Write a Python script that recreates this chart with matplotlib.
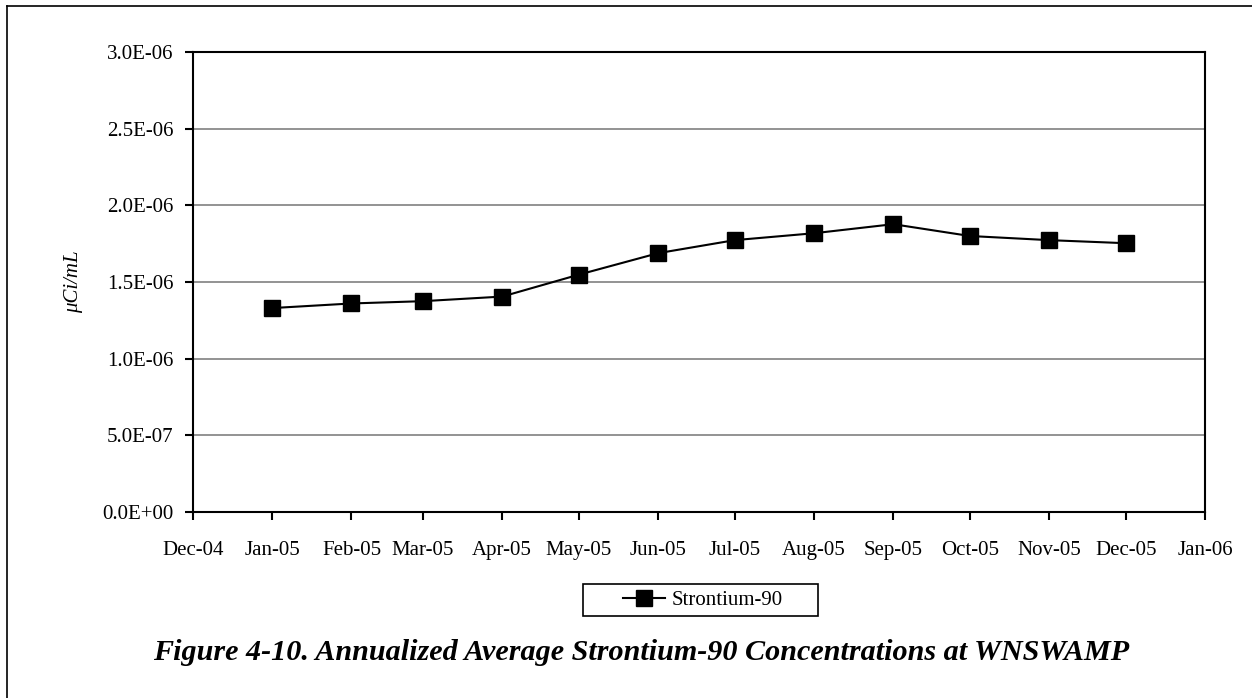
import numpy as np
import matplotlib
matplotlib.use("Agg")
import matplotlib.pyplot as plt
import matplotlib.dates as mdates
from matplotlib.lines import Line2D
from matplotlib.patches import Rectangle
import datetime as dt

# data
months = ["2005-01-01", "2005-02-01", "2005-03-01", "2005-04-01", "2005-05-01", "2005-06-01",
          "2005-07-01", "2005-08-01", "2005-09-01", "2005-10-01", "2005-11-01", "2005-12-01"]
sr90 = [1.33e-6, 1.36e-6, 1.375e-6, 1.405e-6, 1.548e-6, 1.688e-6,
        1.773e-6, 1.818e-6, 1.877e-6, 1.80e-6, 1.773e-6, 1.753e-6]
yticks = [0.0, 0.5e-6, 1.0e-6, 1.5e-6, 2.0e-6, 2.5e-6, 3.0e-6]
caption = "Figure 4-10. Annualized Average Strontium-90 Concentrations at WNSWAMP"

plt.rcParams["font.family"] = ["Liberation Serif", "DejaVu Serif"]

fig = plt.figure(figsize=(12.52, 6.98), dpi=100)
ax = fig.add_axes([193/1252, 1-512/698, (1205-193)/1252, (512-52)/698])

x = [dt.datetime.strptime(m, "%Y-%m-%d") for m in months]
ax.plot(x, sr90, color="black", lw=1.5, marker="s", ms=12, zorder=3)

ax.set_xlim(dt.datetime(2004, 12, 1), dt.datetime(2006, 1, 1))
ax.xaxis.set_major_locator(mdates.MonthLocator())
ax.xaxis.set_major_formatter(mdates.DateFormatter("%b-%y"))
ax.set_ylim(0, 3e-6)
ax.set_yticks(yticks)
ax.set_yticklabels(["%.1E" % v for v in yticks])
ax.yaxis.grid(True, color="#808080", lw=1.2)
ax.set_axisbelow(True)

for s in ["left", "bottom", "top", "right"]:
    ax.spines[s].set_linewidth(1.5)
ax.tick_params(direction="out", length=6, width=1.5, labelsize=15, pad=8)
ax.tick_params(axis="x", pad=15)

ax.set_ylabel("\u03bcCi/mL", fontsize=15, style="italic", labelpad=14)

# legend (wide box like the original)
h = Line2D([], [], color="black", lw=1.5, marker="s", ms=12)
leg = fig.legend([h], ["Strontium-90"], loc="center", bbox_to_anchor=(703/1252, 1-600/698),
                 fontsize=15, frameon=False, handlelength=2.0, borderpad=0.3, handletextpad=0.3)
fig.add_artist(Rectangle((583/1252, 1-616/698), 235/1252, 32/698, transform=fig.transFigure,
                         facecolor="none", edgecolor="black", lw=1.2))

cap = fig.text(641/1252, 1-653/698, caption, ha="center", va="center",
               fontsize=20, style="italic", weight="bold")
# fit caption width to ~974 px
r = fig.canvas.get_renderer()
w = cap.get_window_extent(r).width
cap.set_fontsize(20 * 974 / w)

# outer border (left and top only visible)
for xs, ys in [([7, 7], [6, 698]), ([7, 1252], [6, 6])]:
    fig.add_artist(Line2D([v/1252 for v in xs], [1 - v/698 for v in ys],
                          color="black", lw=1.2, transform=fig.transFigure))

fig.savefig("out.png", dpi=100)
